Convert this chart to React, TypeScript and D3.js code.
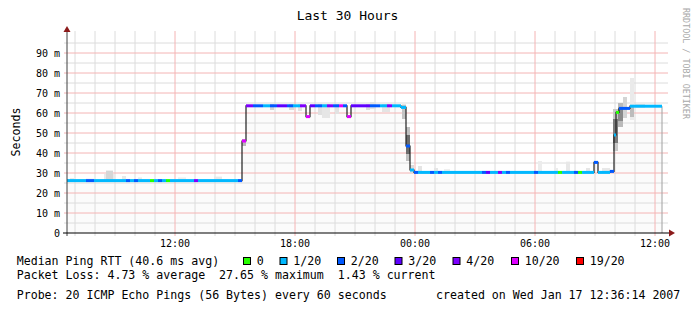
import React from "react";
import * as d3 from "d3";

const W = 697;
const H = 313;
const FONT = "'DejaVu Sans Mono', monospace";

const parse = d3.timeParse("%Y-%m-%d %H:%M");
const windowStart = "2007-01-16 06:36";
const windowEnd = "2007-01-17 12:36";
const dataEnd = "2007-01-17 12:21";

const title = "Last 30 Hours";
const yAxisTitle = "Seconds";
const watermark = "RRDTOOL / TOBI OETIKER";
const yTicks = [0, 10, 20, 30, 40, 50, 60, 70, 80, 90];
const yMax = 100;

const lossLevels = [0, 1, 2, 3, 4, 10, 19];
const lossLabels = ["0", "1/20", "2/20", "3/20", "4/20", "10/20", "19/20"];
const lossColors = ["#26ff00", "#00b8ff", "#0059ff", "#5e00ff", "#7e00ff", "#dd00ff", "#ff0000"];

// [start time, median RTT (ms), lost pings of 20]
const medianSteps: [string, number, number][] = [
  ["2007-01-16 06:36", 26.2, 1],
  ["2007-01-16 07:33", 26.2, 2],
  ["2007-01-16 07:57", 26.2, 1],
  ["2007-01-16 09:33", 26.2, 2],
  ["2007-01-16 09:45", 26.2, 1],
  ["2007-01-16 09:57", 26.2, 2],
  ["2007-01-16 10:09", 26.2, 1],
  ["2007-01-16 10:45", 26.2, 0],
  ["2007-01-16 10:57", 26.2, 1],
  ["2007-01-16 11:09", 26.2, 2],
  ["2007-01-16 11:21", 26.2, 1],
  ["2007-01-16 11:33", 26.2, 0],
  ["2007-01-16 11:45", 26.2, 1],
  ["2007-01-16 12:57", 26.2, 4],
  ["2007-01-16 13:09", 26.2, 1],
  ["2007-01-16 15:09", 26.2, 2],
  ["2007-01-16 15:21", 46, 10],
  ["2007-01-16 15:33", 63.6, 4],
  ["2007-01-16 15:54", 63.6, 2],
  ["2007-01-16 16:24", 63.6, 1],
  ["2007-01-16 16:45", 63.6, 2],
  ["2007-01-16 17:06", 63.6, 3],
  ["2007-01-16 17:36", 63.6, 2],
  ["2007-01-16 17:54", 63.6, 1],
  ["2007-01-16 18:15", 63.6, 4],
  ["2007-01-16 18:33", 58.2, 10],
  ["2007-01-16 18:45", 63.6, 3],
  ["2007-01-16 19:00", 63.6, 2],
  ["2007-01-16 19:21", 63.6, 1],
  ["2007-01-16 19:36", 63.6, 4],
  ["2007-01-16 19:54", 63.6, 2],
  ["2007-01-16 20:12", 63.6, 10],
  ["2007-01-16 20:24", 63.6, 2],
  ["2007-01-16 20:36", 58.2, 10],
  ["2007-01-16 20:48", 63.6, 3],
  ["2007-01-16 21:45", 63.6, 2],
  ["2007-01-16 22:15", 63.6, 1],
  ["2007-01-16 22:36", 63.6, 4],
  ["2007-01-16 22:51", 63.6, 1],
  ["2007-01-16 23:18", 62.8, 1],
  ["2007-01-16 23:33", 43.5, 2],
  ["2007-01-16 23:45", 31.5, 1],
  ["2007-01-16 23:57", 30.3, 2],
  ["2007-01-17 00:09", 30.3, 1],
  ["2007-01-17 00:45", 30.3, 2],
  ["2007-01-17 00:57", 30.3, 1],
  ["2007-01-17 01:09", 30.3, 2],
  ["2007-01-17 01:21", 30.3, 1],
  ["2007-01-17 03:21", 30.3, 2],
  ["2007-01-17 03:33", 30.3, 3],
  ["2007-01-17 03:45", 30.3, 1],
  ["2007-01-17 04:09", 30.3, 4],
  ["2007-01-17 04:21", 30.3, 1],
  ["2007-01-17 04:33", 30.3, 2],
  ["2007-01-17 04:45", 30.3, 1],
  ["2007-01-17 05:57", 30.3, 2],
  ["2007-01-17 06:09", 30.3, 1],
  ["2007-01-17 07:09", 30.3, 0],
  ["2007-01-17 07:21", 30.3, 1],
  ["2007-01-17 07:57", 30.3, 2],
  ["2007-01-17 08:09", 30.3, 0],
  ["2007-01-17 08:21", 30.3, 1],
  ["2007-01-17 08:57", 35.3, 2],
  ["2007-01-17 09:09", 30.3, 1],
  ["2007-01-17 09:45", 30.8, 2],
  ["2007-01-17 09:57", 49, 1],
  ["2007-01-17 10:03", 60.3, 0],
  ["2007-01-17 10:12", 62.3, 2],
  ["2007-01-17 10:45", 63.4, 1],
];

// smoke: [from, to, low ms, high ms, gray]
const smoke: [string, string, number, number, string][] = [
  ["2007-01-16 06:45", "2007-01-16 06:57", 25.6, 27.5, "#ececec"],
  ["2007-01-16 07:33", "2007-01-16 07:57", 25.6, 27.2, "#eeeeee"],
  ["2007-01-16 08:27", "2007-01-16 09:00", 25.6, 29.5, "#eaeaea"],
  ["2007-01-16 08:33", "2007-01-16 08:54", 26.5, 31.2, "#d6d6d6"],
  ["2007-01-16 09:21", "2007-01-16 09:33", 25.6, 28.5, "#e8e8e8"],
  ["2007-01-16 10:09", "2007-01-16 10:21", 25.6, 27.8, "#ebebeb"],
  ["2007-01-16 12:09", "2007-01-16 12:33", 25.6, 27.8, "#eeeeee"],
  ["2007-01-16 13:57", "2007-01-16 14:21", 25.6, 28.2, "#e8e8e8"],
  ["2007-01-16 15:21", "2007-01-16 15:33", 43.5, 47, "#b8b8b8"],
  ["2007-01-16 16:45", "2007-01-16 16:57", 61.5, 64.5, "#d4d4d4"],
  ["2007-01-16 17:42", "2007-01-16 17:57", 61.5, 64.5, "#dadada"],
  ["2007-01-16 18:09", "2007-01-16 18:21", 61, 64.5, "#e2e2e2"],
  ["2007-01-16 19:09", "2007-01-16 19:21", 59, 64.5, "#e0e0e0"],
  ["2007-01-16 19:21", "2007-01-16 19:45", 57.5, 64.5, "#e6e6e6"],
  ["2007-01-16 20:00", "2007-01-16 20:12", 59.5, 64.5, "#e2e2e2"],
  ["2007-01-16 21:33", "2007-01-16 21:45", 61.5, 64.5, "#dcdcdc"],
  ["2007-01-16 21:45", "2007-01-16 22:03", 62, 65.5, "#e4e4e4"],
  ["2007-01-16 22:21", "2007-01-16 22:45", 60.5, 64.5, "#e4e4e4"],
  ["2007-01-16 23:21", "2007-01-16 23:33", 57, 64.2, "#c4c4c4"],
  ["2007-01-16 23:33", "2007-01-16 23:45", 36, 53, "#c0c0c0"],
  ["2007-01-16 23:33", "2007-01-16 23:45", 39.5, 49, "#6c6c6c"],
  ["2007-01-16 23:45", "2007-01-16 23:57", 29.8, 34, "#dcdcdc"],
  ["2007-01-17 00:09", "2007-01-17 00:21", 29.8, 33.5, "#e4e4e4"],
  ["2007-01-17 00:57", "2007-01-17 01:09", 29.8, 32.5, "#e6e6e6"],
  ["2007-01-17 01:27", "2007-01-17 01:45", 29.8, 32, "#efefef"],
  ["2007-01-17 06:09", "2007-01-17 06:21", 29.8, 36, "#ececec"],
  ["2007-01-17 06:57", "2007-01-17 07:09", 29.8, 32.5, "#ececec"],
  ["2007-01-17 07:33", "2007-01-17 07:45", 29.8, 35.7, "#e8e8e8"],
  ["2007-01-17 08:33", "2007-01-17 08:45", 29.8, 32.5, "#e6e6e6"],
  ["2007-01-17 09:21", "2007-01-17 09:45", 29.8, 32.5, "#e8e8e8"],
  ["2007-01-17 09:54", "2007-01-17 10:09", 41, 62, "#c8c8c8"],
  ["2007-01-17 09:54", "2007-01-17 10:09", 45, 57, "#7a7a7a"],
  ["2007-01-17 10:09", "2007-01-17 10:24", 53, 65, "#bababa"],
  ["2007-01-17 10:09", "2007-01-17 10:24", 56, 62, "#8a8a8a"],
  ["2007-01-17 10:24", "2007-01-17 10:36", 57.5, 68, "#d4d4d4"],
  ["2007-01-17 10:45", "2007-01-17 10:57", 56.5, 77.5, "#eaeaea"],
  ["2007-01-17 10:45", "2007-01-17 10:57", 58, 64, "#bcbcbc"],
  ["2007-01-17 11:00", "2007-01-17 11:30", 62.5, 64.5, "#e4e4e4"],
];

const legendTitle = "Median Ping RTT (40.6 ms avg)";
const lossLine = "Packet Loss: 4.73 % average  27.65 % maximum  1.43 % current";
const probeLine = "Probe: 20 ICMP Echo Pings (56 Bytes) every 60 seconds";
const createdLine = "created on Wed Jan 17 12:36:14 2007";

export default function App() {
  const t0 = parse(windowStart)!;
  const t1 = parse(windowEnd)!;
  const tEnd = parse(dataEnd)!;
  const L = 67, R = 667, T = 33, B = 233;
  const x = d3.scaleTime().domain([t0, t1]).range([L, R]);
  const y = d3.scaleLinear().domain([0, yMax]).range([B, T]);

  const hours = d3.timeHour.range(t0, t1);
  const minorX = hours.filter((h) => h.getHours() % 6 !== 0);
  const majorX = hours.filter((h) => h.getHours() % 6 === 0);
  const minorY = d3.range(5, yMax, 10);
  const majorY = yTicks.filter((v) => v > 0);
  const fmt = d3.timeFormat("%H:%M");

  const steps = medianSteps.map(([t, m, l], i) => ({
    t0: parse(t)!,
    t1: i + 1 < medianSteps.length ? parse(medianSteps[i + 1][0])! : tEnd,
    m,
    l,
  }));
  const pts: [Date, number][] = steps.map((s) => [s.t0, s.m]);
  pts.push([tEnd, steps[steps.length - 1].m]);

  const line = d3
    .line<[Date, number]>()
    .x((d) => x(d[0]))
    .y((d) => y(d[1]))
    .curve(d3.curveStepAfter);
  const area = d3
    .area<[Date, number]>()
    .x((d) => x(d[0]))
    .y0(y(0))
    .y1((d) => y(d[1]))
    .curve(d3.curveStepAfter);

  const boxX = [243, 279.5, 337, 394.5, 452.5, 511, 576];

  return (
    <svg width={W} height={H} style={{ display: "block", position: "absolute", left: 0, top: 0 }}>
      <rect width={W} height={H} fill="#ffffff" />
      <text x={347.5} y={20} fontFamily={FONT} fontSize={13} textAnchor="middle" fill="#000">
        {title}
      </text>
      <text
        transform={`translate(683,8) rotate(90)`}
        fontFamily={FONT}
        fontSize={8.4}
        fill="#a8a8a8"
      >
        {watermark}
      </text>

      {/* light fill under median */}
      <path d={area(pts) || ""} fill="#fbfbfb" />

      {/* grid */}
      {minorY.map((v) => (
        <line key={"my" + v} x1={L - 3} x2={R + 1} y1={y(v)} y2={y(v)} stroke="#dcdcdc" strokeWidth={1} />
      ))}
      {minorX.map((h) => (
        <line key={"mx" + +h} x1={x(h)} x2={x(h)} y1={T - 2} y2={B + 3} stroke="#dcdcdc" strokeWidth={1} />
      ))}
      {majorY.map((v) => (
        <line key={"My" + v} x1={L - 3} x2={R + 1} y1={y(v)} y2={y(v)} stroke="#f4b4b4" strokeWidth={1} />
      ))}
      {majorX.map((h) => (
        <line key={"Mx" + +h} x1={x(h)} x2={x(h)} y1={T - 2} y2={B + 3} stroke="#f4b4b4" strokeWidth={1} />
      ))}

      {/* smoke */}
      {smoke.map(([a, b, lo, hi, c], i) => (
        <rect
          key={"s" + i}
          x={x(parse(a)!)}
          width={x(parse(b)!) - x(parse(a)!)}
          y={y(hi)}
          height={y(lo) - y(hi)}
          fill={c}
        />
      ))}

      {/* end edge */}
      <line
        x1={x(tEnd)}
        x2={x(tEnd)}
        y1={y(steps[steps.length - 1].m)}
        y2={B}
        stroke="#a0a0a0"
        strokeWidth={1}
      />

      {/* median line */}
      <path d={line(pts) || ""} fill="none" stroke="#202020" strokeWidth={1.2} />
      {steps.map((s, i) => (
        <rect
          key={"m" + i}
          x={x(s.t0)}
          width={x(s.t1) - x(s.t0)}
          y={y(s.m) - 1.5}
          height={3}
          fill={lossColors[lossLevels.indexOf(s.l)]}
        />
      ))}

      {/* axes */}
      <line x1={L} x2={L} y1={29} y2={B + 3} stroke="#404040" strokeWidth={1} />
      <line x1={L - 4} x2={671} y1={B} y2={B} stroke="#000" strokeWidth={1.2} />
      <path d={`M${L - 3.5},32 L${L + 3.5},32 L${L},26 Z`} fill="#8b1a1a" />
      <path d={`M669,${B - 3.5} L669,${B + 3.5} L675,${B} Z`} fill="#8b1a1a" />

      {yTicks.map((v) => (
        <text
          key={"yl" + v}
          x={60}
          y={y(v) + 3.5}
          fontFamily={FONT}
          fontSize={10}
          textAnchor="end"
          fill="#000"
        >
          {v === 0 ? "0" : `${v} m`}
        </text>
      ))}
      {majorX.map((h) => (
        <text
          key={"xl" + +h}
          x={x(h)}
          y={247}
          fontFamily={FONT}
          fontSize={10}
          textAnchor="middle"
          fill="#000"
        >
          {fmt(h)}
        </text>
      ))}
      <text
        transform={`translate(20,${(T + B) / 2 - 1}) rotate(-90)`}
        fontFamily={FONT}
        fontSize={11.6}
        textAnchor="middle"
        fill="#000"
      >
        {yAxisTitle}
      </text>

      {/* legend */}
      <g fontFamily={FONT} fontSize={11.6} fill="#000" style={{ whiteSpace: "pre" }}>
        <text x={16.7} y={265} xmlSpace="preserve">{legendTitle}</text>
        {lossLabels.map((lab, i) => (
          <g key={"lg" + i}>
            <rect x={boxX[i] + 0.5} y={257.5} width={7} height={7} fill={lossColors[i]} stroke="#000" strokeWidth={1} />
            <text x={boxX[i] + 13.7} y={265} xmlSpace="preserve">{lab}</text>
          </g>
        ))}
        <text x={16.7} y={279} xmlSpace="preserve">{lossLine}</text>
        <text x={16.7} y={299} xmlSpace="preserve">{probeLine}</text>
        <text x={436} y={299} xmlSpace="preserve">{createdLine}</text>
      </g>
    </svg>
  );
}
